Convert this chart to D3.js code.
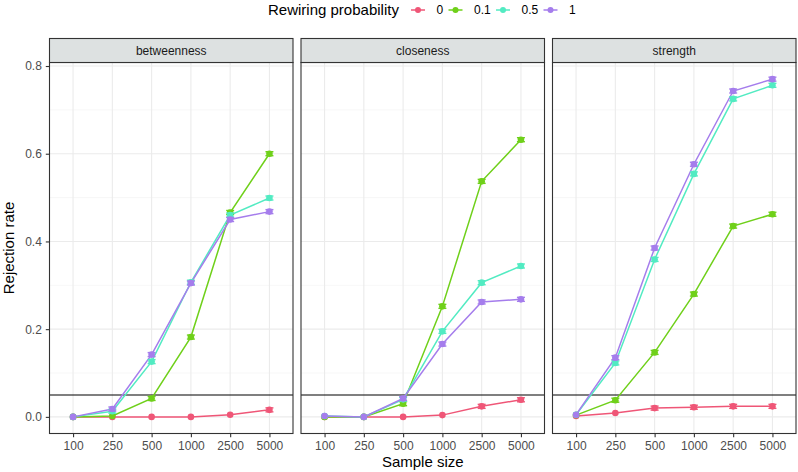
<!DOCTYPE html>
<html>
<head>
<meta charset="utf-8">
<script src="https://cdn.jsdelivr.net/npm/d3@7"></script>
<style>
  html, body { margin: 0; padding: 0; background: #fff; }
  svg { display: block; font-family: "Liberation Sans", Arial, Helvetica, sans-serif; }
</style>
</head>
<body>
<svg id="chart" width="798" height="472"></svg>
<script>
// ---- data ----
const sampleSizes = ["100", "250", "500", "1000", "2500", "5000"];
const measures = ["betweenness", "closeness", "strength"];
const probs = ["0", "0.1", "0.5", "1"];
const yTicks = [0, 0.2, 0.4, 0.6, 0.8];
const yMinorTicks = [0.1, 0.3, 0.5, 0.7];
const threshold = 0.05;

const betweenness_p0  = [0, 0, 0, 0, 0.005, 0.016];
const betweenness_p01 = [0, 0.002, 0.042, 0.182, 0.466, 0.600];
const betweenness_p05 = [0, 0.013, 0.126, 0.307, 0.460, 0.499];
const betweenness_p1  = [0, 0.018, 0.142, 0.305, 0.450, 0.468];

const closeness_p0  = [0, 0, 0, 0.004, 0.024, 0.039];
const closeness_p01 = [0, 0, 0.030, 0.252, 0.537, 0.632];
const closeness_p05 = [0.002, 0, 0.040, 0.195, 0.306, 0.344];
const closeness_p1  = [0.002, 0, 0.042, 0.166, 0.262, 0.268];

const strength_p0  = [0.002, 0.009, 0.020, 0.022, 0.024, 0.024];
const strength_p01 = [0.004, 0.038, 0.147, 0.280, 0.435, 0.462];
const strength_p05 = [0.005, 0.123, 0.359, 0.554, 0.725, 0.756];
const strength_p1  = [0.005, 0.135, 0.385, 0.576, 0.743, 0.770];

const seriesByMeasure = {
  betweenness: [betweenness_p0, betweenness_p01, betweenness_p05, betweenness_p1],
  closeness:   [closeness_p0, closeness_p01, closeness_p05, closeness_p1],
  strength:    [strength_p0, strength_p01, strength_p05, strength_p1]
};

const colors = ["#EF5677", "#6FD01A", "#52EBC2", "#A57DEC"];

// ---- layout ----
const svg = d3.select("#chart");
const panelLefts = [49.5, 301, 552.5];
const panelW = 243.5;
const stripTop = 38.5, stripBottom = 62.5, plotBottom = 433.5;
const FONT = "Liberation Sans, Arial, sans-serif";

const color = d3.scaleOrdinal().domain(probs).range(colors);
const y = d3.scaleLinear().domain([-0.0379, 0.808]).range([plotBottom, stripBottom]);

measures.forEach((m, i) => {
  const x0 = panelLefts[i];
  const x = d3.scalePoint().domain(sampleSizes).range([x0, x0 + panelW]).padding(0.6);
  const g = svg.append("g");

  // grid
  g.selectAll(".ymin").data(yMinorTicks).join("line")
    .attr("x1", x0).attr("x2", x0 + panelW)
    .attr("y1", d => y(d)).attr("y2", d => y(d))
    .attr("stroke", "#F2F2F2").attr("stroke-width", 0.6);
  g.selectAll(".ymaj").data(yTicks).join("line")
    .attr("x1", x0).attr("x2", x0 + panelW)
    .attr("y1", d => y(d)).attr("y2", d => y(d))
    .attr("stroke", "#EBEBEB").attr("stroke-width", 1.1);
  g.selectAll(".xmaj").data(sampleSizes).join("line")
    .attr("x1", d => x(d)).attr("x2", d => x(d))
    .attr("y1", stripBottom).attr("y2", plotBottom)
    .attr("stroke", "#EBEBEB").attr("stroke-width", 1.1);

  // threshold line
  g.append("line")
    .attr("x1", x0).attr("x2", x0 + panelW)
    .attr("y1", y(threshold)).attr("y2", y(threshold))
    .attr("stroke", "#000").attr("stroke-width", 1.1);

  const series = seriesByMeasure[m];
  const line = d3.line().x((d, j) => x(sampleSizes[j])).y(d => y(d));

  // lines
  series.forEach((vals, k) => {
    g.append("path").datum(vals)
      .attr("d", line).attr("fill", "none")
      .attr("stroke", color(probs[k])).attr("stroke-width", 1.5);
  });
  // error caps + points
  series.forEach((vals, k) => {
    const c = color(probs[k]);
    const pts = vals.map((v, j) => ({ v, s: sampleSizes[j] }));
    const eb = g.selectAll(null).data(pts.filter(p => p.v > 0.01)).join("g");
    eb.append("line").attr("x1", p => x(p.s) - 4).attr("x2", p => x(p.s) + 4)
      .attr("y1", p => y(p.v) - 2).attr("y2", p => y(p.v) - 2)
      .attr("stroke", c).attr("stroke-width", 1.4);
    eb.append("line").attr("x1", p => x(p.s) - 4).attr("x2", p => x(p.s) + 4)
      .attr("y1", p => y(p.v) + 2).attr("y2", p => y(p.v) + 2)
      .attr("stroke", c).attr("stroke-width", 1.4);
    g.selectAll(null).data(pts).join("circle")
      .attr("cx", p => x(p.s)).attr("cy", p => y(p.v)).attr("r", 3.3)
      .attr("fill", c);
  });

  // panel border
  g.append("rect").attr("x", x0).attr("y", stripBottom)
    .attr("width", panelW).attr("height", plotBottom - stripBottom)
    .attr("fill", "none").attr("stroke", "#333").attr("stroke-width", 1.1);

  // strip
  g.append("rect").attr("x", x0).attr("y", stripTop)
    .attr("width", panelW).attr("height", stripBottom - stripTop)
    .attr("fill", "#DDE1E1").attr("stroke", "#333").attr("stroke-width", 1.1);
  g.append("text").attr("x", x0 + panelW / 2).attr("y", (stripTop + stripBottom) / 2)
    .attr("dy", "0.35em").attr("text-anchor", "middle")
    .attr("font-size", 12).attr("fill", "#1A1A1A").text(m);

  // x axis
  const xAxis = d3.axisBottom(x).tickSize(3.7).tickPadding(4.5);
  const ax = g.append("g").attr("transform", `translate(0,${plotBottom})`).call(xAxis);
  ax.select(".domain").remove();
  ax.selectAll(".tick line").attr("stroke", "#333").attr("stroke-width", 1.1);
  ax.selectAll(".tick text").attr("font-size", 12).attr("fill", "#4D4D4D")
    .attr("font-family", FONT);

  if (i === 0) {
    const yAxis = d3.axisLeft(y).tickValues(yTicks).tickFormat(d3.format(".1f")).tickSize(3.7).tickPadding(4);
    const ay = g.append("g").attr("transform", `translate(${x0},0)`).call(yAxis);
    ay.select(".domain").remove();
    ay.selectAll(".tick line").attr("stroke", "#333").attr("stroke-width", 1.1);
    ay.selectAll(".tick text").attr("font-size", 12).attr("fill", "#4D4D4D")
      .attr("font-family", FONT);
  }
});

// axis titles
svg.append("text").attr("x", (panelLefts[0] + panelLefts[2] + panelW) / 2).attr("y", 466.5)
  .attr("text-anchor", "middle").attr("font-size", 15).attr("fill", "#000").text("Sample size");
svg.append("text")
  .attr("transform", `translate(13.5,${(stripBottom + plotBottom) / 2}) rotate(-90)`)
  .attr("text-anchor", "middle").attr("font-size", 15).attr("fill", "#000").text("Rejection rate");

// legend
const legend = svg.append("g");
legend.append("text").attr("x", 268).attr("y", 15).attr("font-size", 15).attr("fill", "#000")
  .text("Rewiring probability");
const keyX = [411, 448.5, 496, 543.5];
probs.forEach((p, k) => {
  const lg = legend.append("g").attr("transform", `translate(${keyX[k]},10)`);
  lg.append("line").attr("x1", 0).attr("x2", 14).attr("y1", 0).attr("y2", 0)
    .attr("stroke", color(p)).attr("stroke-width", 1.5);
  lg.append("circle").attr("cx", 7).attr("cy", 0).attr("r", 3).attr("fill", color(p));
  lg.append("text").attr("x", 25.5).attr("y", 0).attr("dy", "0.35em")
    .attr("font-size", 12).attr("fill", "#000").text(p);
});
</script>
</body>
</html>
